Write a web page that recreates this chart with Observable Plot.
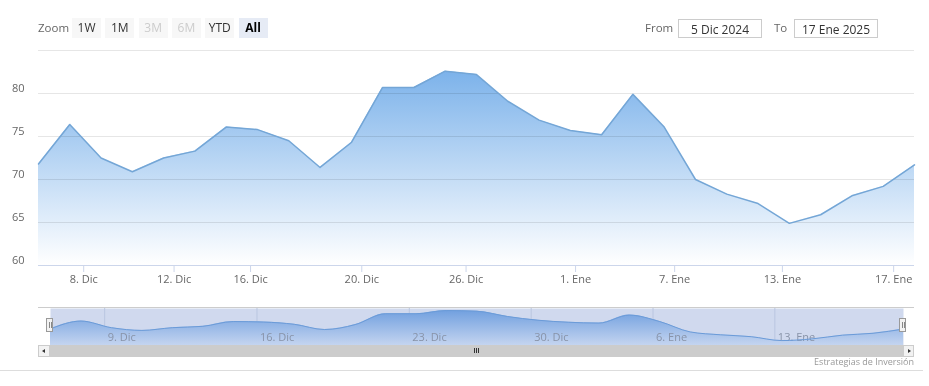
<!DOCTYPE html>
<html><head><meta charset="utf-8">
<script src="https://cdn.jsdelivr.net/npm/d3@7"></script>
<script src="https://cdn.jsdelivr.net/npm/@observablehq/plot@0.6"></script>
<style>
body{margin:0;background:#fff;font-family:"Open Sans",sans-serif;}
#wrap{position:relative;width:929px;height:386px;overflow:hidden;background:#fff;}
.abs{position:absolute;}
.btn{position:absolute;top:18px;width:29px;height:20px;line-height:20px;text-align:center;font-size:12px;color:#333;background:#f7f7f7;}
.btn.dis{color:#ccc;}
.btn.sel{background:#e6ebf5;color:#000;font-weight:bold;}
.lbl{position:absolute;top:18px;height:20px;line-height:20px;font-size:11.5px;color:#666;}
.inp{position:absolute;top:19px;height:19px;line-height:19px;width:84px;box-sizing:border-box;border:1px solid #ccc;text-align:center;font-size:12px;color:#333;}
.handle{position:absolute;top:318px;width:7px;height:14px;box-sizing:border-box;background:#f2f2f2;border:1px solid #999;}
.handle i{position:absolute;top:3px;width:1px;height:6px;background:#888;}
.sbtn{position:absolute;top:345px;height:12px;box-sizing:border-box;background:#f2f2f2;border:1px solid #ccc;}
</style></head>
<body>
<div id="wrap">
  <div id="main" class="abs" style="left:0;top:0"></div>
  <div id="nav" class="abs" style="left:0;top:300px"></div>
  <div class="lbl" style="left:38px">Zoom</div>
  <div id="btns"></div>
  <div class="lbl" style="left:645px">From</div>
  <div class="inp" style="left:678px" id="fromBox"></div>
  <div class="lbl" style="left:774px">To</div>
  <div class="inp" style="left:794px" id="toBox"></div>
  <div class="abs" style="left:38px;top:307px;width:876px;height:1px;background:#cccccc"></div>
  <div class="handle" style="left:46px"><i style="left:1.5px"></i><i style="left:3.5px"></i></div>
  <div class="handle" style="left:899px"><i style="left:1.5px"></i><i style="left:3.5px"></i></div>
  <div class="sbtn" style="left:38px;width:12px"><div class="abs" style="left:3px;top:3px;width:0;height:0;border-top:2.5px solid transparent;border-bottom:2.5px solid transparent;border-right:3px solid #333"></div></div>
  <div class="abs" style="left:50px;top:345px;width:853px;height:12px;background:#cccccc"></div>
  <div class="abs" style="left:474px;top:348px;width:1px;height:5px;background:#333"></div>
  <div class="abs" style="left:476px;top:348px;width:1px;height:5px;background:#333"></div>
  <div class="abs" style="left:478px;top:348px;width:1px;height:5px;background:#333"></div>
  <div class="sbtn" style="left:903px;width:11px"><div class="abs" style="left:4px;top:3px;width:0;height:0;border-top:2.5px solid transparent;border-bottom:2.5px solid transparent;border-left:3px solid #333"></div></div>
  <div class="abs" id="credits" style="right:15px;top:356px;font-size:9px;line-height:12px;color:#999"></div>
  <div class="abs" style="left:0;top:370px;width:923px;height:1px;background:#dddddd"></div>
</div>
<script>
// ---- data ----
const dates = ["2024-12-05","2024-12-06","2024-12-09","2024-12-10","2024-12-11","2024-12-12","2024-12-13","2024-12-16","2024-12-17","2024-12-18","2024-12-19","2024-12-20","2024-12-23","2024-12-24","2024-12-26","2024-12-27","2024-12-30","2024-12-31","2025-01-02","2025-01-03","2025-01-06","2025-01-07","2025-01-08","2025-01-10","2025-01-13","2025-01-14","2025-01-15","2025-01-16","2025-01-17"];
const values = [71.8, 76.4, 72.5, 70.9, 72.5, 73.3, 76.1, 75.8, 74.5, 71.4, 74.3, 80.7, 80.7, 82.6, 82.2, 79.1, 76.9, 75.7, 75.2, 79.9, 76.1, 70.0, 68.3, 67.2, 64.9, 65.9, 68.1, 69.2, 71.7];
const mainTickDates = ["2024-12-08","2024-12-12","2024-12-16","2024-12-20","2024-12-26","2025-01-01","2025-01-07","2025-01-13","2025-01-17"];
const mainTickLabels = ["8. Dic","12. Dic","16. Dic","20. Dic","26. Dic","1. Ene","7. Ene","13. Ene","17. Ene"];
const navTickDates = ["2024-12-09","2024-12-16","2024-12-23","2024-12-30","2025-01-06","2025-01-13"];
const navTickLabels = ["9. Dic","16. Dic","23. Dic","30. Dic","6. Ene","13. Ene"];
const yTicks = [60, 65, 70, 75, 80, 85];
const yLabelTicks = [60, 65, 70, 75, 80];
const zoomButtons = ["1W","1M","3M","6M","YTD","All"];
const disabledButtons = ["3M","6M"];
const selectedButton = "All";
const fromText = "5 Dic 2024";
const toText = "17 Ene 2025";
const creditText = "Estrategias de Inversión";
const pointHourOffset = 16; // timestamps of the points (hours after midnight)

// ---- ordinal (trading-day) axis helpers ----
const ms = s => Date.parse(s + "T00:00:00Z");
const pointTimes = dates.map(d => ms(d) + pointHourOffset * 3600e3);
function dateToIndex(s) {
  const t = ms(s);
  for (let i = 0; i < pointTimes.length - 1; i++) {
    if (t >= pointTimes[i] && t < pointTimes[i + 1]) return i + (t - pointTimes[i]) / (pointTimes[i + 1] - pointTimes[i]);
  }
  return t < pointTimes[0] ? 0 : pointTimes.length - 1;
}
const data = dates.map((d, i) => ({i, date: d, v: values[i]}));
const mainTicks = mainTickDates.map((d, k) => ({x: dateToIndex(d), label: mainTickLabels[k]}));
const navTicks = navTickDates.map((d, k) => ({x: dateToIndex(d), label: navTickLabels[k]}));
const mainLabelMap = new Map(mainTicks.map(t => [t.x, t.label]));

// ---- main chart ----
const main = Plot.plot({
  width: 929, height: 300,
  marginLeft: 38, marginRight: 15, marginTop: 50, marginBottom: 35,
  style: {fontFamily: "'Open Sans', sans-serif", fontSize: "11px", color: "#666", background: "transparent", overflow: "visible"},
  x: {type: "linear", domain: [0, dates.length - 1], label: null},
  y: {domain: [60, 85], label: null},
  marks: [
    Plot.areaY(data, {x: "i", y1: 60, y2: "v", fill: "url(#mainGrad)"}),
    Plot.gridY(yTicks, {stroke: "#e6e6e6", strokeOpacity: 1, mixBlendMode: "multiply"}),
    Plot.lineY(data, {x: "i", y: "v", stroke: "#74a6d6", strokeWidth: 1.5}),
    Plot.ruleY([60], {stroke: "#ccd6eb"}),
    Plot.axisY(yLabelTicks, {tickSize: 0, tickPadding: 3, dx: -11, dy: -5, fill: "#666"}),
    Plot.axisX(mainTicks.map(t => t.x), {tickSize: 7, tickPadding: 3, stroke: "#ccd6eb", fill: "#666", tickFormat: d => mainLabelMap.get(d)})
  ]
});
main.insertAdjacentHTML("afterbegin",
  '<defs><linearGradient id="mainGrad" gradientUnits="userSpaceOnUse" x1="0" y1="50" x2="0" y2="265">' +
  '<stop offset="0" stop-color="rgb(110,170,232)"/><stop offset="1" stop-color="rgb(255,255,255)"/></linearGradient></defs>');
document.getElementById("main").appendChild(main);

// ---- navigator ----
const nav = Plot.plot({
  width: 929, height: 60,
  marginLeft: 50, marginRight: 26, marginTop: 8, marginBottom: 15,
  style: {fontFamily: "'Open Sans', sans-serif", fontSize: "11px", color: "#666", background: "transparent"},
  x: {type: "linear", domain: [0, dates.length - 1], axis: null, label: null},
  y: {domain: [62, 83.8], axis: null, label: null},
  marks: [
    Plot.frame({fill: "#d0d9ee", stroke: "none"}),
    Plot.ruleX(navTicks, {x: "x", stroke: "#b9c6e0"}),
    Plot.areaY(data, {x: "i", y1: 62, y2: "v", curve: "monotone-x", fill: "url(#navGrad2)"}),
    Plot.text(navTicks, {x: "x", text: "label", frameAnchor: "bottom", lineAnchor: "middle", textAnchor: "start", dx: 3, dy: -8, fill: "#8893a8"}),
    Plot.lineY(data, {x: "i", y: "v", curve: "monotone-x", stroke: "#6b9bd8", strokeWidth: 1})
  ]
});
nav.insertAdjacentHTML("afterbegin",
  '<defs><linearGradient id="navGrad2" gradientUnits="userSpaceOnUse" x1="0" y1="8" x2="0" y2="45">' +
  '<stop offset="0" stop-color="rgb(108,157,222)"/><stop offset="1" stop-color="rgb(196,212,240)"/></linearGradient></defs>');
document.getElementById("nav").appendChild(nav);

// ---- range selector / texts ----
const btns = document.getElementById("btns");
zoomButtons.forEach((b, k) => {
  const el = document.createElement("div");
  el.className = "btn" + (disabledButtons.includes(b) ? " dis" : "") + (b === selectedButton ? " sel" : "");
  el.style.left = (72 + k * 33.3) + "px";
  el.textContent = b;
  btns.appendChild(el);
});
document.getElementById("fromBox").textContent = fromText;
document.getElementById("toBox").textContent = toText;
document.getElementById("credits").textContent = creditText;
</script>
</body></html>
